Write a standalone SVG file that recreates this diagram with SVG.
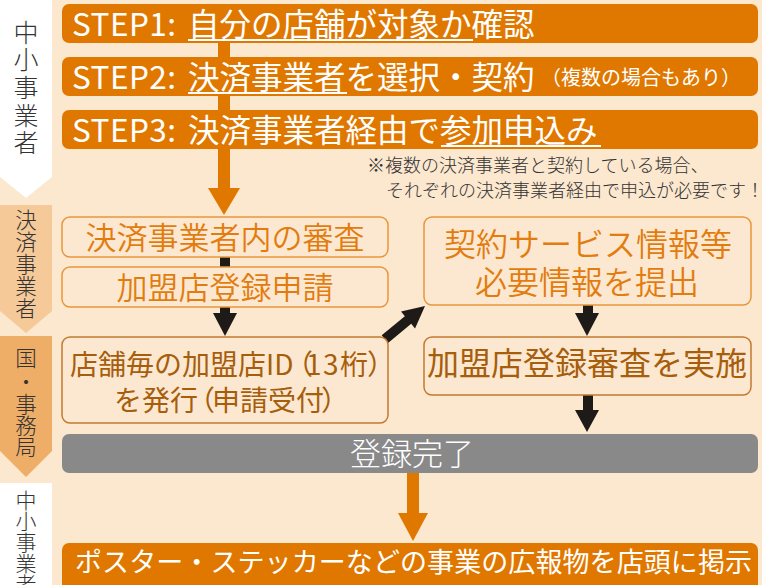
<svg xmlns="http://www.w3.org/2000/svg" width="762" height="585" viewBox="0 0 762 585">
<style>
  text { font-family: "Noto Sans CJK JP", "Noto Sans", sans-serif; }
  .step { fill: #E07800; }
  .wt { fill: #ffffff; }
  .ul { stroke: #ffffff; stroke-width: 2; }
  .lbl { fill: #333333; text-anchor: middle; font-weight: 300; }
  .ob { fill: #FCE8D1; stroke: #E9963A; stroke-width: 1.5; }
  .bb { fill: #FCE8D1; stroke: #C27A30; stroke-width: 1.5; }
  .ot { fill: #E27C0E; text-anchor: middle; font-weight: 350; }
  .bt { fill: #A65E0C; font-weight: 400; }
  .blk { fill: #1E1A18; }
  .org { fill: #E07800; }
</style>
<rect x="0" y="0" width="762" height="585" fill="#FCE7CF"/>

<!-- left lane labels -->
<g id="lane1">
  <polygon points="0,0 52,0 52,177 26,198 0,177" fill="#FFFFFF"/>
  <text class="lbl" font-size="25"><tspan x="26" y="42">中</tspan><tspan x="26" y="69">小</tspan><tspan x="26" y="97">事</tspan><tspan x="26" y="125">業</tspan><tspan x="26" y="152">者</tspan></text>
</g>
<g id="lane2">
  <polygon points="0,205 52,205 52,311 26,333 0,311" fill="#F6C998"/>
  <text class="lbl" font-size="21.5"><tspan x="26" y="228">決</tspan><tspan x="26" y="250">済</tspan><tspan x="26" y="272">事</tspan><tspan x="26" y="294">業</tspan><tspan x="26" y="316">者</tspan></text>
</g>
<g id="lane3">
  <polygon points="0,336 52,336 52,451 26,477 0,451" fill="#EEAE68"/>
  <text class="lbl" font-size="21.5"><tspan x="26" y="366">国</tspan><tspan x="26" y="390">・</tspan><tspan x="26" y="412">事</tspan><tspan x="26" y="434">務</tspan><tspan x="26" y="455">局</tspan></text>
</g>
<g id="lane4">
  <rect x="0" y="483" width="52" height="102" fill="#FFFFFF"/>
  <text class="lbl" font-size="21"><tspan x="26" y="508">中</tspan><tspan x="26" y="529">小</tspan><tspan x="26" y="550">事</tspan><tspan x="26" y="571">業</tspan><tspan x="26" y="592">者</tspan></text>
</g>

<!-- connectors -->
<g id="connectors">
  <rect class="org" x="218" y="40" width="12" height="150"/>
  <polygon class="org" points="208,188 240,188 224,215"/>
  <rect class="blk" x="220" y="256" width="10" height="12"/>
  <rect class="blk" x="220" y="306" width="10" height="8"/>
  <polygon class="blk" points="213,313 237,313 225,336"/>
  <rect class="blk" x="583" y="304" width="10" height="10"/>
  <polygon class="blk" points="575,313 599,313 587,336"/>
  <rect class="blk" x="583" y="394" width="10" height="17"/>
  <polygon class="blk" points="575,410 599,410 587,432"/>
  <g transform="translate(425,306) rotate(-39.5)">
    <polygon class="blk" points="-52,-5 -22,-5 -22,-11 0,0 -22,11 -22,5 -52,5"/>
  </g>
  <rect class="org" x="407" y="472" width="12" height="42"/>
  <polygon class="org" points="398,513 428,513 413,541"/>
</g>

<!-- steps -->
<g id="step1">
  <rect class="step" x="62" y="4" width="696" height="39" rx="7"/>
  <text class="wt" font-size="31.5"><tspan x="72" y="36" textLength="104">STEP1:</tspan><tspan x="188" y="36">自分の店舗が対象か確認</tspan></text>
  <line class="ul" x1="188" y1="40" x2="473" y2="40"/>
</g>
<g id="step2">
  <rect class="step" x="62" y="57" width="696" height="39" rx="7"/>
  <text class="wt" font-size="31.5"><tspan x="72" y="89" textLength="104">STEP2:</tspan><tspan x="188" y="89">決済事業者を選択・契約</tspan></text>
  <text class="wt" font-size="20" x="541" y="85">（複数の場合もあり）</text>
  <line class="ul" x1="188" y1="93" x2="347" y2="93"/>
</g>
<g id="step3">
  <rect class="step" x="62" y="110" width="696" height="39" rx="7"/>
  <text class="wt" font-size="31.5"><tspan x="72" y="142" textLength="104">STEP3:</tspan><tspan x="188" y="142">決済事業者経由で参加申込み</tspan></text>
  <line class="ul" x1="441" y1="146" x2="601" y2="146"/>
</g>
<g id="note">
  <text fill="#333333" font-size="18" font-weight="300"><tspan x="367" y="172">※複数の決済事業者と契約している場合、</tspan><tspan x="386" y="197">それぞれの決済事業者経由で申込が必要です！</tspan></text>
</g>

<!-- process boxes -->
<g id="review">
  <rect class="ob" x="62" y="217" width="326" height="40" rx="8"/>
  <text class="ot" font-size="31" x="225" y="249">決済事業者内の審査</text>
</g>
<g id="apply">
  <rect class="ob" x="62" y="267" width="326" height="40" rx="8"/>
  <text class="ot" font-size="31" x="225" y="299">加盟店登録申請</text>
</g>
<g id="issue">
  <rect class="bb" x="62" y="337" width="326" height="86" rx="8"/>
  <text class="bt" font-size="28"><tspan x="70" y="375">店舗毎の加盟店ID</tspan><tspan x="285" y="375">（</tspan><tspan x="306" y="375" textLength="62">13桁</tspan><tspan x="367" y="375">）</tspan></text>
  <text class="bt" font-size="28"><tspan x="114" y="411">を発行</tspan><tspan x="187" y="411">（</tspan><tspan x="212" y="411">申請受付</tspan><tspan x="321" y="411">）</tspan></text>
</g>
<g id="submit">
  <rect class="ob" x="424" y="217" width="327" height="88" rx="8"/>
  <text class="ot" font-size="32" x="588" y="256">契約サービス情報等</text>
  <text class="ot" font-size="32" x="587" y="294">必要情報を提出</text>
</g>
<g id="examine">
  <rect class="bb" x="424" y="337" width="327" height="58" rx="8"/>
  <text class="bt" font-size="32" x="587" y="375" text-anchor="middle">加盟店登録審査を実施</text>
</g>
<g id="done">
  <rect x="62" y="434" width="696" height="39" rx="7" fill="#898989"/>
  <text class="wt" font-size="31" x="412" y="465" text-anchor="middle" font-weight="300">登録完了</text>
</g>
<g id="poster">
  <rect class="step" x="62" y="543" width="696" height="50" rx="7"/>
  <text class="wt" font-size="27" x="75" y="572" textLength="677">ポスター・ステッカーなどの事業の広報物を店頭に掲示</text>
</g>
</svg>
